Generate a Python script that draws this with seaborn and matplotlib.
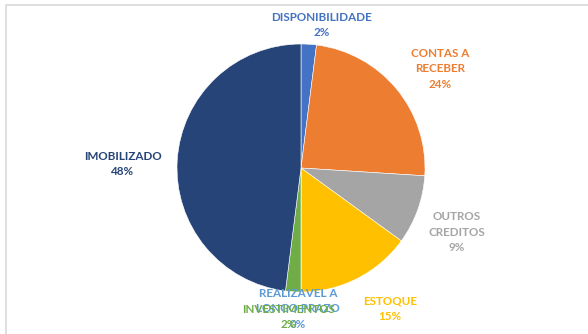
import matplotlib
matplotlib.use("Agg")
import matplotlib.pyplot as plt
import seaborn as sns

# Composição do ativo (%)
categorias = ["DISPONIBILIDADE", "CONTAS A RECEBER", "OUTROS CREDITOS", "ESTOQUE",
              "REALIZAVEL A LONGO PRAZO", "INVESTIMENTOS", "IMOBILIZADO"]
rotulos = ["DISPONIBILIDADE", "CONTAS A\nRECEBER", "OUTROS\nCREDITOS", "ESTOQUE",
           "REALIZAVEL A\nLONGO PRAZO", "INVESTIMENTOS", "IMOBILIZADO"]
valores = [2, 24, 9, 15, 0, 2, 48]
cores = ["#4472C4", "#ED7D31", "#A5A5A5", "#FFC000", "#5B9BD5", "#70AD47", "#264478"]

sns.set_theme(style="white")
plt.rcParams["font.family"] = ["Lato", "DejaVu Sans"]

W, H = 588, 334
fig = plt.figure(figsize=(W / 100, H / 100), dpi=100)
ax = fig.add_axes([0, 0, 1, 1])

cx, cy, r = 301, H - 168, 124
ax.pie(valores, colors=cores, startangle=90, counterclock=False,
       center=(cx, cy), radius=r,
       wedgeprops=dict(linewidth=0.4, edgecolor="white"))

# posição dos rótulos (pixels a partir do topo)
pos = [(322, 25), (440, 69), (457, 232), (390, 309), (298, 309), (289, 317), (123, 164)]
for txt, v, c, (x, y) in zip(rotulos, valores, cores, pos):
    ax.text(x, H - y, f"{txt}\n{v}%", ha="center", va="center", color=c,
            fontsize=8.4, fontweight="bold", linespacing=1.55)

# moldura da área do gráfico
ax.plot([6, 6, W + 5], [-5, H - 5, H - 5], color="#D9D9D9", lw=1.2, clip_on=False)

ax.set_xlim(0, W)
ax.set_ylim(0, H)
ax.set_aspect("equal")
ax.axis("off")
fig.savefig("out.png", dpi=100, facecolor="white")
